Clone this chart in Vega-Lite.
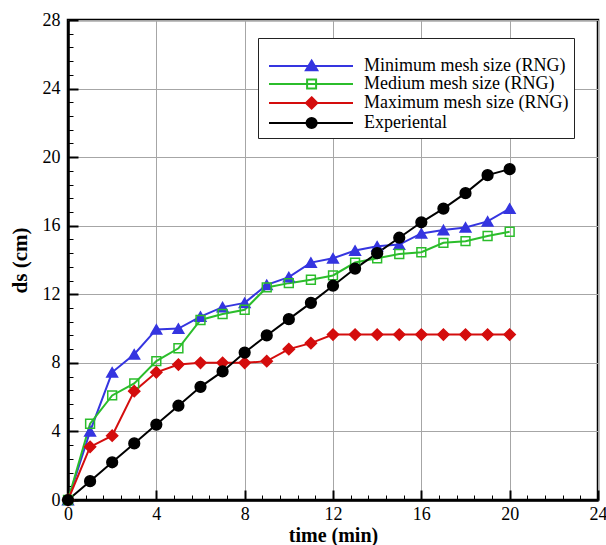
{
  "$schema": "https://vega.github.io/schema/vega-lite/v6.json",
  "width": 530,
  "height": 480,
  "autosize": {"type": "none"},
  "padding": {"left": 68, "top": 20, "right": 8, "bottom": 45},
  "background": "white",
  "config": {
    "view": {"stroke": "black", "strokeWidth": 2.5},
    "font": "Liberation Serif"
  },
  "data": {
    "values": [
      {"t": 0, "ds": 0, "series": "Minimum mesh size (RNG)"},
      {"t": 1, "ds": 4.0, "series": "Minimum mesh size (RNG)"},
      {"t": 2, "ds": 7.45, "series": "Minimum mesh size (RNG)"},
      {"t": 3, "ds": 8.5, "series": "Minimum mesh size (RNG)"},
      {"t": 4, "ds": 9.95, "series": "Minimum mesh size (RNG)"},
      {"t": 5, "ds": 10.0, "series": "Minimum mesh size (RNG)"},
      {"t": 6, "ds": 10.7, "series": "Minimum mesh size (RNG)"},
      {"t": 7, "ds": 11.25, "series": "Minimum mesh size (RNG)"},
      {"t": 8, "ds": 11.5, "series": "Minimum mesh size (RNG)"},
      {"t": 9, "ds": 12.55, "series": "Minimum mesh size (RNG)"},
      {"t": 10, "ds": 13.0, "series": "Minimum mesh size (RNG)"},
      {"t": 11, "ds": 13.85, "series": "Minimum mesh size (RNG)"},
      {"t": 12, "ds": 14.1, "series": "Minimum mesh size (RNG)"},
      {"t": 13, "ds": 14.55, "series": "Minimum mesh size (RNG)"},
      {"t": 14, "ds": 14.8, "series": "Minimum mesh size (RNG)"},
      {"t": 15, "ds": 14.9, "series": "Minimum mesh size (RNG)"},
      {"t": 16, "ds": 15.55, "series": "Minimum mesh size (RNG)"},
      {"t": 17, "ds": 15.75, "series": "Minimum mesh size (RNG)"},
      {"t": 18, "ds": 15.9, "series": "Minimum mesh size (RNG)"},
      {"t": 19, "ds": 16.25, "series": "Minimum mesh size (RNG)"},
      {"t": 20, "ds": 17.0, "series": "Minimum mesh size (RNG)"},
      {"t": 0, "ds": 0, "series": "Medium mesh size (RNG)"},
      {"t": 1, "ds": 4.45, "series": "Medium mesh size (RNG)"},
      {"t": 2, "ds": 6.1, "series": "Medium mesh size (RNG)"},
      {"t": 3, "ds": 6.8, "series": "Medium mesh size (RNG)"},
      {"t": 4, "ds": 8.1, "series": "Medium mesh size (RNG)"},
      {"t": 5, "ds": 8.85, "series": "Medium mesh size (RNG)"},
      {"t": 6, "ds": 10.5, "series": "Medium mesh size (RNG)"},
      {"t": 7, "ds": 10.85, "series": "Medium mesh size (RNG)"},
      {"t": 8, "ds": 11.1, "series": "Medium mesh size (RNG)"},
      {"t": 9, "ds": 12.4, "series": "Medium mesh size (RNG)"},
      {"t": 10, "ds": 12.65, "series": "Medium mesh size (RNG)"},
      {"t": 11, "ds": 12.85, "series": "Medium mesh size (RNG)"},
      {"t": 12, "ds": 13.1, "series": "Medium mesh size (RNG)"},
      {"t": 13, "ds": 13.85, "series": "Medium mesh size (RNG)"},
      {"t": 14, "ds": 14.1, "series": "Medium mesh size (RNG)"},
      {"t": 15, "ds": 14.35, "series": "Medium mesh size (RNG)"},
      {"t": 16, "ds": 14.45, "series": "Medium mesh size (RNG)"},
      {"t": 17, "ds": 15.0, "series": "Medium mesh size (RNG)"},
      {"t": 18, "ds": 15.1, "series": "Medium mesh size (RNG)"},
      {"t": 19, "ds": 15.4, "series": "Medium mesh size (RNG)"},
      {"t": 20, "ds": 15.65, "series": "Medium mesh size (RNG)"},
      {"t": 0, "ds": 0, "series": "Maximum mesh size (RNG)"},
      {"t": 1, "ds": 3.1, "series": "Maximum mesh size (RNG)"},
      {"t": 2, "ds": 3.75, "series": "Maximum mesh size (RNG)"},
      {"t": 3, "ds": 6.35, "series": "Maximum mesh size (RNG)"},
      {"t": 4, "ds": 7.45, "series": "Maximum mesh size (RNG)"},
      {"t": 5, "ds": 7.9, "series": "Maximum mesh size (RNG)"},
      {"t": 6, "ds": 8.0, "series": "Maximum mesh size (RNG)"},
      {"t": 7, "ds": 8.0, "series": "Maximum mesh size (RNG)"},
      {"t": 8, "ds": 8.0, "series": "Maximum mesh size (RNG)"},
      {"t": 9, "ds": 8.1, "series": "Maximum mesh size (RNG)"},
      {"t": 10, "ds": 8.8, "series": "Maximum mesh size (RNG)"},
      {"t": 11, "ds": 9.15, "series": "Maximum mesh size (RNG)"},
      {"t": 12, "ds": 9.65, "series": "Maximum mesh size (RNG)"},
      {"t": 13, "ds": 9.65, "series": "Maximum mesh size (RNG)"},
      {"t": 14, "ds": 9.65, "series": "Maximum mesh size (RNG)"},
      {"t": 15, "ds": 9.65, "series": "Maximum mesh size (RNG)"},
      {"t": 16, "ds": 9.65, "series": "Maximum mesh size (RNG)"},
      {"t": 17, "ds": 9.65, "series": "Maximum mesh size (RNG)"},
      {"t": 18, "ds": 9.65, "series": "Maximum mesh size (RNG)"},
      {"t": 19, "ds": 9.65, "series": "Maximum mesh size (RNG)"},
      {"t": 20, "ds": 9.65, "series": "Maximum mesh size (RNG)"},
      {"t": 0, "ds": 0, "series": "Experiental"},
      {"t": 1, "ds": 1.1, "series": "Experiental"},
      {"t": 2, "ds": 2.2, "series": "Experiental"},
      {"t": 3, "ds": 3.3, "series": "Experiental"},
      {"t": 4, "ds": 4.4, "series": "Experiental"},
      {"t": 5, "ds": 5.5, "series": "Experiental"},
      {"t": 6, "ds": 6.6, "series": "Experiental"},
      {"t": 7, "ds": 7.5, "series": "Experiental"},
      {"t": 8, "ds": 8.6, "series": "Experiental"},
      {"t": 9, "ds": 9.6, "series": "Experiental"},
      {"t": 10, "ds": 10.55, "series": "Experiental"},
      {"t": 11, "ds": 11.5, "series": "Experiental"},
      {"t": 12, "ds": 12.5, "series": "Experiental"},
      {"t": 13, "ds": 13.5, "series": "Experiental"},
      {"t": 14, "ds": 14.4, "series": "Experiental"},
      {"t": 15, "ds": 15.3, "series": "Experiental"},
      {"t": 16, "ds": 16.2, "series": "Experiental"},
      {"t": 17, "ds": 17.0, "series": "Experiental"},
      {"t": 18, "ds": 17.9, "series": "Experiental"},
      {"t": 19, "ds": 18.95, "series": "Experiental"},
      {"t": 20, "ds": 19.3, "series": "Experiental"}
    ]
  },
  "resolve": {"axis": {"x": "independent", "y": "independent"}},
  "layer": [
    {
      "mark": {"type": "line", "strokeWidth": 2},
      "encoding": {
        "x": {
          "field": "t", "type": "quantitative",
          "scale": {"domain": [0, 24], "nice": false},
          "axis": {
            "orient": "bottom",
            "values": [0, 4, 8, 12, 16, 20, 24],
            "format": "d",
            "grid": true, "gridColor": "#a6a6a6", "gridWidth": 1, "gridOpacity": 1,
            "domain": true, "domainColor": "black", "domainWidth": 2.5,
            "ticks": true, "tickSize": -10, "tickWidth": 2, "tickColor": "black",
            "labelFont": "Liberation Serif", "labelFontSize": 18, "labelColor": "black",
            "labelPadding": 15, "labelFlush": false, "labelOverlap": false,
            "title": "time (min)", "titleFont": "Liberation Serif", "titleFontSize": 20,
            "titleFontWeight": "bold", "titleColor": "black", "titlePadding": 2
          }
        },
        "y": {
          "field": "ds", "type": "quantitative",
          "scale": {"domain": [0, 28], "nice": false},
          "axis": {
            "orient": "left",
            "values": [0, 4, 8, 12, 16, 20, 24, 28],
            "format": "d",
            "grid": true, "gridColor": "#a6a6a6", "gridWidth": 1, "gridOpacity": 1,
            "domain": true, "domainColor": "black", "domainWidth": 2.5,
            "ticks": true, "tickSize": -10, "tickWidth": 2, "tickColor": "black",
            "labelFont": "Liberation Serif", "labelFontSize": 18, "labelColor": "black",
            "labelPadding": 18, "labelFlush": false, "labelOverlap": false,
            "title": "ds (cm)", "titleFont": "Liberation Serif", "titleFontSize": 21,
            "titleFontWeight": "bold", "titleColor": "black", "titlePadding": 12
          }
        },
        "color": {
          "field": "series", "type": "nominal",
          "scale": {
            "domain": ["Minimum mesh size (RNG)", "Medium mesh size (RNG)", "Maximum mesh size (RNG)", "Experiental"],
            "range": ["#3535e0", "#2bbd2b", "#d40d0d", "#000000"]
          },
          "legend": {
            "orient": "none", "legendX": 190, "legendY": 18,
            "title": " ", "titleFontSize": 14, "titlePadding": 0,
            "padding": 5,
            "strokeColor": "#222222", "fillColor": "white",
            "labelFont": "Liberation Serif", "labelFontSize": 18, "labelColor": "black",
            "labelLimit": 400, "labelOffset": 83, "rowPadding": 0,
            "symbolSize": 144, "symbolStrokeWidth": 2, "symbolOpacity": 1
          }
        }
      }
    },
    {
      "mark": {"type": "point", "filled": false, "strokeWidth": 1.5, "opacity": 1},
      "encoding": {
        "x": {"field": "t", "type": "quantitative", "axis": null},
        "y": {"field": "ds", "type": "quantitative", "axis": null},
        "color": {"field": "series", "type": "nominal", "legend": null},
        "shape": {
          "condition": [
            {"test": "datum.series == 'Minimum mesh size (RNG)'", "value": "triangle-up"},
            {"test": "datum.series == 'Medium mesh size (RNG)'", "value": "square"},
            {"test": "datum.series == 'Maximum mesh size (RNG)'", "value": "diamond"}
          ],
          "value": "circle"
        },
        "fill": {
          "condition": [
            {"test": "datum.series == 'Minimum mesh size (RNG)'", "value": "#3535e0"},
            {"test": "datum.series == 'Medium mesh size (RNG)'", "value": "transparent"},
            {"test": "datum.series == 'Maximum mesh size (RNG)'", "value": "#d40d0d"}
          ],
          "value": "#000000"
        },
        "size": {
          "condition": [
            {"test": "datum.series == 'Minimum mesh size (RNG)'", "value": 115},
            {"test": "datum.series == 'Medium mesh size (RNG)'", "value": 78},
            {"test": "datum.series == 'Maximum mesh size (RNG)'", "value": 125}
          ],
          "value": 115
        }
      }
    },
    {
      "transform": [{"filter": "false"}],
      "mark": {"type": "point", "filled": true, "opacity": 1},
      "encoding": {
        "x": {
          "field": "t", "type": "quantitative",
          "axis": {
            "orient": "bottom",
            "values": [0.8, 1.6, 2.4, 3.2, 4.8, 5.6, 6.4, 7.2, 8.8, 9.6, 10.4, 11.2, 12.8, 13.6, 14.4, 15.2, 16.8, 17.6, 18.4, 19.2, 20.8, 21.6, 22.4, 23.2],
            "labels": false, "domain": false, "grid": false,
            "ticks": true, "tickSize": -5, "tickWidth": 1, "tickColor": "black",
            "title": null
          }
        },
        "y": {
          "field": "ds", "type": "quantitative",
          "axis": {
            "orient": "left",
            "values": [0.8, 1.6, 2.4, 3.2, 4.8, 5.6, 6.4, 7.2, 8.8, 9.6, 10.4, 11.2, 12.8, 13.6, 14.4, 15.2, 16.8, 17.6, 18.4, 19.2, 20.8, 21.6, 22.4, 23.2, 24.8, 25.6, 26.4, 27.2],
            "labels": false, "domain": false, "grid": false,
            "ticks": true, "tickSize": -5, "tickWidth": 1, "tickColor": "black",
            "title": null
          }
        },
        "stroke": {"field": "series", "type": "nominal",
          "scale": {
            "domain": ["Minimum mesh size (RNG)", "Medium mesh size (RNG)", "Maximum mesh size (RNG)", "Experiental"],
            "range": ["#3535e0", "#2bbd2b", "#d40d0d", "#000000"]
          }
        },
        "shape": {
          "field": "series", "type": "nominal",
          "scale": {
            "domain": ["Minimum mesh size (RNG)", "Medium mesh size (RNG)", "Maximum mesh size (RNG)", "Experiental"],
            "range": [
              "M-0.5,0H13.5M6.6,-0.9L7.55,0.7H5.65Z",
              "M-0.5,0H13.5M5.85,-0.75H7.35V0.75H5.85Z",
              "M-0.5,0H13.5M6.6,-0.95L7.55,0L6.6,0.95L5.65,0Z",
              "M-0.5,0H13.5M7.45,0A0.85,0.85,0,1,1,5.75,0A0.85,0.85,0,1,1,7.45,0Z"
            ]
          }
        },
        "fill": {
          "field": "series", "type": "nominal",
          "scale": {
            "domain": ["Minimum mesh size (RNG)", "Medium mesh size (RNG)", "Maximum mesh size (RNG)", "Experiental"],
            "range": ["#3535e0", "transparent", "#d40d0d", "#000000"]
          }
        }
      }
    }
  ]
}
